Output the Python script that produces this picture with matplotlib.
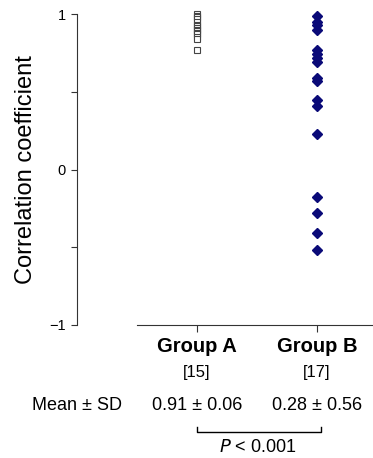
import matplotlib
matplotlib.use("Agg")
import matplotlib.pyplot as plt

plt.rcParams['font.family'] = ['Liberation Sans', 'DejaVu Sans']

# data
groups = ['Group A', 'Group B']
counts = ['[15]', '[17]']
mean_sd = ['0.91 \u00b1 0.06', '0.28 \u00b1 0.56']
group_a = [1.00, 0.99, 0.98, 0.97, 0.95, 0.93, 0.92, 0.91, 0.90, 0.89,
           0.88, 0.87, 0.85, 0.84, 0.77]
group_b = [0.99, 0.95, 0.93, 0.90, 0.77, 0.74, 0.72, 0.69, 0.59, 0.57,
           0.45, 0.41, 0.23, -0.18, -0.28, -0.41, -0.52]
p_text = r'$P$ < 0.001'

W, H = 373, 458
fig = plt.figure(figsize=(W / 100, H / 100), dpi=100)
# axes box in pixels: left spine x=77, right edge 373, y=1 at 14, y=-1 at 325
ax = fig.add_axes([77 / W, 1 - 325 / H, (373 - 77) / W, (325 - 14) / H])
ax.set_ylim(-1, 1)
ax.set_xlim(-1.0, 1.467)

ax.plot([0] * len(group_a), group_a, 's', ms=4, mfc='white', mec='#444444',
        mew=0.8, clip_on=False, zorder=3)
ax.plot([1] * len(group_b), group_b, 'D', ms=5.5, color='#0a0a78',
        clip_on=False, zorder=3)

edge = '#333333'
for s in ['top', 'right']:
    ax.spines[s].set_visible(False)
ax.spines['left'].set_color(edge)
ax.spines['bottom'].set_color(edge)
ax.spines['bottom'].set_bounds(-0.5, 1.467)

ax.set_yticks([-1, 0, 1])
ax.set_yticklabels(['\u22121', '0', '1'])
ax.set_yticks([-0.5, 0.5], minor=True)
ax.tick_params(axis='y', which='both', length=4, width=0.8, color=edge,
               labelsize=10.5, pad=4)
ax.set_xticks([0, 1])
ax.set_xticklabels([])
ax.tick_params(axis='x', length=5, width=0.8, color=edge)

ax.set_ylabel('Correlation coefficient', fontsize=17)
ax.yaxis.set_label_coords(-0.135, 0.5)

# text rows under the axis, x in data, y in axes fraction
tr = ax.get_xaxis_transform()
def fy(p):
    return (325 - p) / 311

for i, g in enumerate(groups):
    ax.text(i, fy(347), g, transform=tr, ha='center', va='center',
            fontsize=14.5, fontweight='bold')
    ax.text(i, fy(372), counts[i], transform=tr, ha='center', va='center',
            fontsize=12)
    ax.text(i, fy(405), mean_sd[i], transform=tr, ha='center', va='center',
            fontsize=13)
ax.text(-1.0, fy(405), 'Mean \u00b1 SD', transform=tr, ha='center',
        va='center', fontsize=13)

# significance bracket
ax.plot([0, 0, 1.03, 1.03], [fy(427), fy(432), fy(432), fy(427)],
        transform=tr, color='black', lw=1, clip_on=False)
ax.text(0.51, fy(447), p_text, transform=tr, ha='center', va='center',
        fontsize=13)

fig.savefig('out.png', dpi=100)
